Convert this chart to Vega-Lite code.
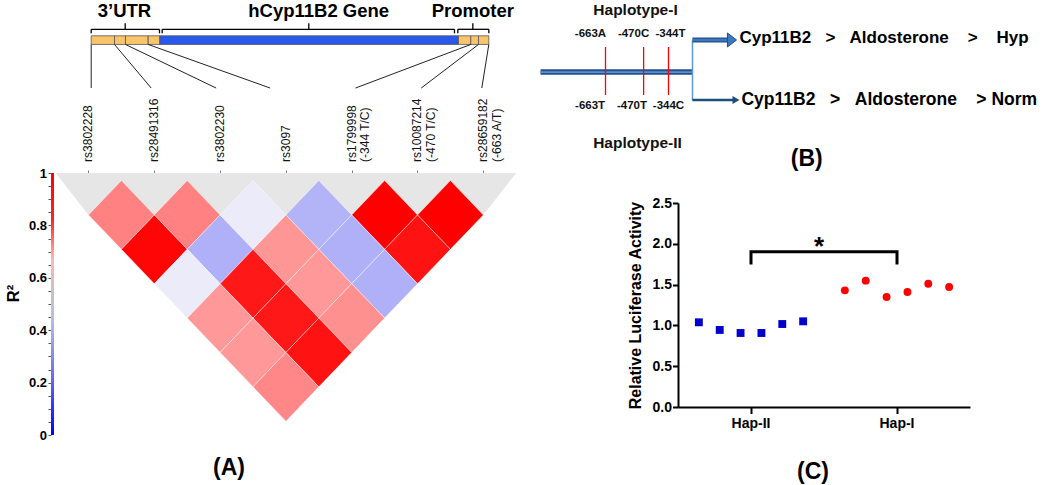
{
  "$schema": "https://vega.github.io/schema/vega-lite/v6.json",
  "background": "white",
  "padding": {"left": 5, "top": 0, "right": 0, "bottom": 0},
  "config": {
    "view": {"stroke": null},
    "font": "Liberation Sans",
    "axis": {"labelFont": "Liberation Sans", "titleFont": "Liberation Sans"},
    "title": {"font": "Liberation Sans", "fontWeight": "bold", "fontSize": 23, "color": "black"}
  },
  "datasets": {
    "regions": [
      {"region": "3’UTR", "start": 0.041, "center": 0.558, "end": 1.079, "label_pos": 0.547},
      {"region": "hCyp11B2 Gene", "start": 1.12, "center": 3.348, "end": 5.562, "label_pos": 3.498},
      {"region": "Promoter", "start": 5.613, "center": 5.841, "end": 6.084, "label_pos": 5.841}
    ],
    "segments": [
      {"part": "UTR", "start": 0.041, "end": 0.395},
      {"part": "UTR", "start": 0.395, "end": 0.562},
      {"part": "UTR", "start": 0.562, "end": 0.907},
      {"part": "UTR", "start": 0.907, "end": 1.084},
      {"part": "Gene", "start": 1.084, "end": 5.623},
      {"part": "Promoter", "start": 5.623, "end": 5.81},
      {"part": "Promoter", "start": 5.81, "end": 5.927},
      {"part": "Promoter", "start": 5.927, "end": 6.084}
    ],
    "snps": [
      {"snp": "rs3802228", "label": "rs3802228", "idx": 0, "bar_pos": 0.041, "line_end": 0.041},
      {"snp": "rs28491316", "label": "rs28491316", "idx": 1, "bar_pos": 0.395, "line_end": 0.953},
      {"snp": "rs3802230", "label": "rs3802230", "idx": 2, "bar_pos": 0.562, "line_end": 1.94},
      {"snp": "rs3097", "label": "rs3097", "idx": 3, "bar_pos": 0.907, "line_end": 2.761},
      {"snp": "rs1799998", "label": "rs1799998\n(-344 T/C)", "idx": 4, "bar_pos": 5.81, "line_end": 4.058},
      {"snp": "rs10087214", "label": "rs10087214\n(-470 T/C)", "idx": 5, "bar_pos": 5.927, "line_end": 5.056},
      {"snp": "rs28659182", "label": "rs28659182\n(-663 A/T)", "idx": 6, "bar_pos": 6.084, "line_end": 5.977}
    ],
    "r2bar": [{"r2_low": 0, "r2_high": 1}],
    "band": [
      {"pos": -0.5, "lower": -0.22},
      {"pos": 0, "lower": 1},
      {"pos": 6, "lower": 1},
      {"pos": 6.5, "lower": -0.22}
    ],
    "ld": [
      {"snp_a": "rs3802228", "snp_b": "rs28491316", "mid": 0.5, "sep": 1, "r2": 0.79},
      {"snp_a": "rs28491316", "snp_b": "rs3802230", "mid": 1.5, "sep": 1, "r2": 0.79},
      {"snp_a": "rs3802230", "snp_b": "rs3097", "mid": 2.5, "sep": 1, "r2": 0.5},
      {"snp_a": "rs3097", "snp_b": "rs1799998", "mid": 3.5, "sep": 1, "r2": 0.31},
      {"snp_a": "rs1799998", "snp_b": "rs10087214", "mid": 4.5, "sep": 1, "r2": 1},
      {"snp_a": "rs10087214", "snp_b": "rs28659182", "mid": 5.5, "sep": 1, "r2": 1},
      {"snp_a": "rs3802228", "snp_b": "rs3802230", "mid": 1, "sep": 2, "r2": 0.99},
      {"snp_a": "rs28491316", "snp_b": "rs3097", "mid": 2, "sep": 2, "r2": 0.3},
      {"snp_a": "rs3802230", "snp_b": "rs1799998", "mid": 3, "sep": 2, "r2": 0.755},
      {"snp_a": "rs3097", "snp_b": "rs10087214", "mid": 4, "sep": 2, "r2": 0.3},
      {"snp_a": "rs1799998", "snp_b": "rs28659182", "mid": 5, "sep": 2, "r2": 0.97},
      {"snp_a": "rs3802228", "snp_b": "rs3097", "mid": 1.5, "sep": 3, "r2": 0.5},
      {"snp_a": "rs28491316", "snp_b": "rs1799998", "mid": 2.5, "sep": 3, "r2": 0.96},
      {"snp_a": "rs3802230", "snp_b": "rs10087214", "mid": 3.5, "sep": 3, "r2": 0.75},
      {"snp_a": "rs3097", "snp_b": "rs28659182", "mid": 4.5, "sep": 3, "r2": 0.3},
      {"snp_a": "rs3802228", "snp_b": "rs1799998", "mid": 2, "sep": 4, "r2": 0.75},
      {"snp_a": "rs28491316", "snp_b": "rs10087214", "mid": 3, "sep": 4, "r2": 0.96},
      {"snp_a": "rs3802230", "snp_b": "rs28659182", "mid": 4, "sep": 4, "r2": 0.765},
      {"snp_a": "rs3802228", "snp_b": "rs10087214", "mid": 2.5, "sep": 5, "r2": 0.75},
      {"snp_a": "rs28491316", "snp_b": "rs28659182", "mid": 3.5, "sep": 5, "r2": 0.97},
      {"snp_a": "rs3802228", "snp_b": "rs28659182", "mid": 3, "sep": 6, "r2": 0.78}
    ],
    "promoter_line": [{"from": -992, "to": -222.5}],
    "promoter_snps": [
      {"snp": "rs28659182", "bp": -663},
      {"snp": "rs10087214", "bp": -470},
      {"snp": "rs1799998", "bp": -344}
    ],
    "alleles": [
      {"haplotype": "Haplotype-I", "allele": "-663A", "label_bp": -739, "level": 0.231},
      {"haplotype": "Haplotype-I", "allele": "-470C", "label_bp": -521, "level": 0.231},
      {"haplotype": "Haplotype-I", "allele": "-344T", "label_bp": -334, "level": 0.231},
      {"haplotype": "Haplotype-II", "allele": "-663T", "label_bp": -741, "level": 0.721},
      {"haplotype": "Haplotype-II", "allele": "-470T", "label_bp": -529, "level": 0.721},
      {"haplotype": "Haplotype-II", "allele": "-344C", "label_bp": -344, "level": 0.721}
    ],
    "haplotypes": [
      {"haplotype": "Haplotype-I", "label_bp": -511, "label_level": 0.068, "pathway": "Cyp11B2\u00a0\u00a0\u00a0>\u00a0\u00a0\u00a0Aldosterone\u00a0\u00a0\u00a0\u00a0>\u00a0\u00a0\u00a0\u00a0Hyp", "text_bp": 15.5, "text_level": 0.2585},
      {"haplotype": "Haplotype-II", "label_bp": -501, "label_level": 0.973, "pathway": "Cyp11B2\u00a0\u00a0\u00a0>\u00a0\u00a0\u00a0Aldosterone\u00a0\u00a0\u00a0\u00a0>\u00a0Norm", "text_bp": 25.6, "text_level": 0.68}
    ],
    "luc": [
      {"haplotype": "Hap-II", "replicate": 1, "activity": 1.038},
      {"haplotype": "Hap-II", "replicate": 2, "activity": 0.944},
      {"haplotype": "Hap-II", "replicate": 3, "activity": 0.907},
      {"haplotype": "Hap-II", "replicate": 4, "activity": 0.907},
      {"haplotype": "Hap-II", "replicate": 5, "activity": 1.017},
      {"haplotype": "Hap-II", "replicate": 6, "activity": 1.05},
      {"haplotype": "Hap-I", "replicate": 1, "activity": 1.43},
      {"haplotype": "Hap-I", "replicate": 2, "activity": 1.548},
      {"haplotype": "Hap-I", "replicate": 3, "activity": 1.348},
      {"haplotype": "Hap-I", "replicate": 4, "activity": 1.409},
      {"haplotype": "Hap-I", "replicate": 5, "activity": 1.511},
      {"haplotype": "Hap-I", "replicate": 6, "activity": 1.471}
    ],
    "bracket": [
      {"haplotype": "Hap-II", "level": 1.745, "order": 1},
      {"haplotype": "Hap-II", "level": 1.903, "order": 2},
      {"haplotype": "Hap-I", "level": 1.903, "order": 3},
      {"haplotype": "Hap-I", "level": 1.745, "order": 4}
    ],
    "significance": [{"haplotype": "Hap-II", "level": 1.903, "label": "*"}]
  },
  "bounds": "flush",
  "spacing": 479,
  "hconcat": [
    {
      "bounds": "flush",
      "spacing": 0,
      "vconcat": [
        {
          "width": 469,
          "height": 173,
          "layer": [
            {
              "data": {"name": "regions"},
              "mark": {"type": "text", "fontSize": 18.5, "fontWeight": "bold", "color": "black", "baseline": "middle", "align": "center"},
              "encoding": {
                "x": {"field": "label_pos", "type": "quantitative", "scale": {"domain": [-0.5699, 6.5578], "nice": false, "zero": false}, "axis": null},
                "y": {"datum": 0.064, "type": "quantitative", "scale": {"domain": [0, 1], "reverse": true, "nice": false, "zero": false}, "axis": null},
                "text": {"field": "region"}
              }
            },
            {
              "data": {"name": "regions"},
              "mark": {"type": "rule", "color": "black", "strokeWidth": 1.3},
              "encoding": {
                "x": {"field": "start", "type": "quantitative", "scale": {"domain": [-0.5699, 6.5578], "nice": false, "zero": false}, "axis": null},
                "x2": {"field": "end"},
                "y": {"datum": 0.1694, "type": "quantitative", "scale": {"domain": [0, 1], "reverse": true, "nice": false, "zero": false}, "axis": null}
              }
            },
            {
              "data": {"name": "regions"},
              "mark": {"type": "rule", "color": "black", "strokeWidth": 1.3},
              "encoding": {
                "x": {"field": "start", "type": "quantitative", "scale": {"domain": [-0.5699, 6.5578], "nice": false, "zero": false}, "axis": null},
                "y": {"datum": 0.1694, "type": "quantitative", "scale": {"domain": [0, 1], "reverse": true, "nice": false, "zero": false}, "axis": null},
                "y2": {"datum": 0.1925}
              }
            },
            {
              "data": {"name": "regions"},
              "mark": {"type": "rule", "color": "black", "strokeWidth": 1.3},
              "encoding": {
                "x": {"field": "end", "type": "quantitative", "scale": {"domain": [-0.5699, 6.5578], "nice": false, "zero": false}, "axis": null},
                "y": {"datum": 0.1694, "type": "quantitative", "scale": {"domain": [0, 1], "reverse": true, "nice": false, "zero": false}, "axis": null},
                "y2": {"datum": 0.1925}
              }
            },
            {
              "data": {"name": "regions"},
              "mark": {"type": "rule", "color": "black", "strokeWidth": 1.3},
              "encoding": {
                "x": {"field": "center", "type": "quantitative", "scale": {"domain": [-0.5699, 6.5578], "nice": false, "zero": false}, "axis": null},
                "y": {"datum": 0.1347, "type": "quantitative", "scale": {"domain": [0, 1], "reverse": true, "nice": false, "zero": false}, "axis": null},
                "y2": {"datum": 0.1694}
              }
            },
            {
              "data": {"name": "segments"},
              "mark": {"type": "rect", "stroke": "#555555", "strokeWidth": 0.8},
              "encoding": {
                "x": {"field": "start", "type": "quantitative", "scale": {"domain": [-0.5699, 6.5578], "nice": false, "zero": false}, "axis": null},
                "x2": {"field": "end"},
                "y": {"datum": 0.207, "type": "quantitative", "scale": {"domain": [0, 1], "reverse": true, "nice": false, "zero": false}, "axis": null},
                "y2": {"datum": 0.257},
                "color": {"field": "part", "type": "nominal", "scale": {"domain": ["UTR", "Gene", "Promoter"], "range": ["#F9C46B", "#2A58EC", "#F9C46B"]}, "legend": null}
              }
            },
            {
              "data": {"name": "snps"},
              "mark": {"type": "rule", "color": "#222222", "strokeWidth": 1},
              "encoding": {
                "x": {"field": "bar_pos", "type": "quantitative", "scale": {"domain": [-0.5699, 6.5578], "nice": false, "zero": false}, "axis": null},
                "x2": {"field": "line_end"},
                "y": {"datum": 0.257, "type": "quantitative", "scale": {"domain": [0, 1], "reverse": true, "nice": false, "zero": false}, "axis": null},
                "y2": {"datum": 0.509}
              }
            },
            {
              "data": {"name": "snps"},
              "mark": {"type": "text", "angle": 270, "align": "left", "baseline": "middle", "fontSize": 12, "lineBreak": "\n", "lineHeight": 13.5, "color": "#111111"},
              "encoding": {
                "x": {"field": "idx", "type": "quantitative", "scale": {"domain": [-0.5699, 6.5578], "nice": false, "zero": false}, "axis": null},
                "y": {"datum": 0.936, "type": "quantitative", "scale": {"domain": [0, 1], "reverse": true, "nice": false, "zero": false}, "axis": null},
                "text": {"field": "label"}
              }
            }
          ]
        },
        {
          "bounds": "flush",
          "spacing": 0,
          "hconcat": [
            {
              "width": 3,
              "height": 262,
              "data": {"name": "r2bar"},
              "mark": {
                "type": "rect",
                "fill": {
                  "gradient": "linear", "x1": 0, "y1": 0, "x2": 0, "y2": 1,
                  "stops": [
                    {"offset": 0, "color": "#FF0000"},
                    {"offset": 0.18, "color": "#FF2424"},
                    {"offset": 0.33, "color": "#FFB8B8"},
                    {"offset": 0.45, "color": "#C4C4C4"},
                    {"offset": 0.56, "color": "#BCBCE0"},
                    {"offset": 0.78, "color": "#6A6AF2"},
                    {"offset": 1, "color": "#0000FF"}
                  ]
                }
              },
              "encoding": {
                "y": {
                  "field": "r2_low", "type": "quantitative",
                  "scale": {"domain": [0, 1], "nice": false, "zero": false},
                  "axis": {
                    "values": [0, 0.05, 0.1, 0.15, 0.2, 0.25, 0.3, 0.35, 0.4, 0.45, 0.5, 0.55, 0.6, 0.65, 0.7, 0.75, 0.8, 0.85, 0.9, 0.95, 1],
                    "labelExpr": "abs(datum.value*5 - round(datum.value*5)) < 0.001 ? format(datum.value, '~g') : ''",
                    "domain": false, "grid": false,
                    "tickSize": 3, "tickColor": "#555555", "tickWidth": 1,
                    "labelFontSize": 13, "labelFontWeight": "bold", "labelColor": "black", "labelPadding": 1.5, "labelOverlap": false,
                    "title": "R²", "titleFontSize": 16.5, "titleFontWeight": "bold", "titleColor": "black",
                    "titleX": -30, "titleY": 120, "titleAngle": 270, "titleBaseline": "bottom", "titleAlign": "center"
                  }
                },
                "y2": {"field": "r2_high"}
              }
            },
            {
              "width": 466,
              "height": 262,
              "title": {"text": "(A)", "orient": "bottom", "anchor": "middle", "dx": -58, "offset": 22},
              "layer": [
                {
                  "data": {"name": "band"},
                  "mark": {"type": "area", "color": "#E6E6E6", "interpolate": "linear", "opacity": 1},
                  "encoding": {
                    "x": {"field": "pos", "type": "quantitative", "scale": {"domain": [-0.5243, 6.5578], "nice": false, "zero": false},
                      "axis": {"orient": "top", "values": [0, 1, 2, 3, 4, 5, 6], "labels": false, "domain": false, "grid": false, "ticks": true, "tickSize": 3, "tickColor": "#808080", "title": null}},
                    "y": {"field": "lower", "type": "quantitative", "scale": {"domain": [-0.22, 7.4], "reverse": true, "nice": false, "zero": false}, "axis": null},
                    "y2": {"datum": -0.22}
                  }
                },
                {
                  "data": {"name": "ld"},
                  "mark": {"type": "point", "shape": "M-1,0L0,-1.045L1,0L0,1.045Z", "size": 4330, "filled": true, "opacity": 1, "stroke": "#ffffff", "strokeWidth": 0.6, "strokeOpacity": 0.7},
                  "encoding": {
                    "x": {"field": "mid", "type": "quantitative", "scale": {"domain": [-0.5243, 6.5578], "nice": false, "zero": false},
                      "axis": {"orient": "top", "values": [0, 1, 2, 3, 4, 5, 6], "labels": false, "domain": false, "grid": false, "ticks": true, "tickSize": 3, "tickColor": "#808080", "title": null}},
                    "y": {"field": "sep", "type": "quantitative", "scale": {"domain": [-0.22, 7.4], "reverse": true, "nice": false, "zero": false}, "axis": null},
                    "color": {"field": "r2", "type": "quantitative", "scale": {"domain": [0.3, 0.5, 0.75, 1], "range": ["#B0B0F8", "#EBEBFA", "#FF9999", "#FF0000"], "interpolate": "rgb"}, "legend": null}
                  }
                }
              ]
            }
          ]
        }
      ]
    },
    {
      "bounds": "flush",
      "spacing": 56,
      "vconcat": [
        {
          "width": 519.5,
          "height": 147,
          "title": {"text": "(B)", "orient": "bottom", "anchor": "middle", "dx": 17, "offset": -4},
          "layer": [
            {
              "data": {"name": "promoter_line"},
              "mark": {"type": "rule", "color": "#23508A", "strokeWidth": 5.5},
              "encoding": {
                "x": {"field": "from", "type": "quantitative", "scale": {"domain": [-1045.3, 1585.3], "nice": false, "zero": false}, "axis": null},
                "x2": {"field": "to"},
                "y": {"datum": 0.49, "type": "quantitative", "scale": {"domain": [0, 1], "reverse": true, "nice": false, "zero": false}, "axis": null}
              }
            },
            {
              "data": {"name": "promoter_line"},
              "mark": {"type": "rule", "color": "#5B8FD0", "strokeWidth": 1.8},
              "encoding": {
                "x": {"field": "from", "type": "quantitative", "scale": {"domain": [-1045.3, 1585.3], "nice": false, "zero": false}, "axis": null},
                "x2": {"field": "to"},
                "y": {"datum": 0.49, "type": "quantitative", "scale": {"domain": [0, 1], "reverse": true, "nice": false, "zero": false}, "axis": null}
              }
            },
            {
              "data": {"name": "promoter_snps"},
              "mark": {"type": "rule", "color": "#FF0000", "strokeWidth": 1.3},
              "encoding": {
                "x": {"field": "bp", "type": "quantitative", "scale": {"domain": [-1045.3, 1585.3], "nice": false, "zero": false}, "axis": null},
                "y": {"datum": 0.3197, "type": "quantitative", "scale": {"domain": [0, 1], "reverse": true, "nice": false, "zero": false}, "axis": null},
                "y2": {"datum": 0.646}
              }
            },
            {
              "data": {"name": "promoter_line"},
              "mark": {"type": "rule", "color": "#5B9BD5", "strokeWidth": 1.5},
              "encoding": {
                "x": {"field": "to", "type": "quantitative", "scale": {"domain": [-1045.3, 1585.3], "nice": false, "zero": false}, "axis": null},
                "y": {"datum": 0.2755, "type": "quantitative", "scale": {"domain": [0, 1], "reverse": true, "nice": false, "zero": false}, "axis": null},
                "y2": {"datum": 0.684}
              }
            },
            {
              "data": {"name": "promoter_line"},
              "mark": {"type": "rule", "color": "#23508A", "strokeWidth": 5},
              "encoding": {
                "x": {"field": "to", "type": "quantitative", "scale": {"domain": [-1045.3, 1585.3], "nice": false, "zero": false}, "axis": null},
                "x2": {"datum": -45.3},
                "y": {"datum": 0.272, "type": "quantitative", "scale": {"domain": [0, 1], "reverse": true, "nice": false, "zero": false}, "axis": null}
              }
            },
            {
              "data": {"name": "promoter_line"},
              "mark": {"type": "rule", "color": "#3A78C2", "strokeWidth": 2.6},
              "encoding": {
                "x": {"field": "to", "type": "quantitative", "scale": {"domain": [-1045.3, 1585.3], "nice": false, "zero": false}, "axis": null},
                "x2": {"datum": -45.3},
                "y": {"datum": 0.272, "type": "quantitative", "scale": {"domain": [0, 1], "reverse": true, "nice": false, "zero": false}, "axis": null}
              }
            },
            {
              "data": {"name": "promoter_line"},
              "mark": {"type": "point", "shape": "M-0.65,-1L0.65,0L-0.65,1Z", "size": 196, "filled": true, "fill": "#3A78C2", "stroke": "#1F4E79", "strokeWidth": 1, "opacity": 1},
              "encoding": {
                "x": {"datum": -22.5, "type": "quantitative", "scale": {"domain": [-1045.3, 1585.3], "nice": false, "zero": false}, "axis": null},
                "y": {"datum": 0.272, "type": "quantitative", "scale": {"domain": [0, 1], "reverse": true, "nice": false, "zero": false}, "axis": null}
              }
            },
            {
              "data": {"name": "promoter_line"},
              "mark": {"type": "rule", "color": "#1F4E79", "strokeWidth": 2.5},
              "encoding": {
                "x": {"field": "to", "type": "quantitative", "scale": {"domain": [-1045.3, 1585.3], "nice": false, "zero": false}, "axis": null},
                "x2": {"datum": -15},
                "y": {"datum": 0.68, "type": "quantitative", "scale": {"domain": [0, 1], "reverse": true, "nice": false, "zero": false}, "axis": null}
              }
            },
            {
              "data": {"name": "promoter_line"},
              "mark": {"type": "point", "shape": "M-0.875,-1L0.875,0L-0.875,1Z", "size": 64, "filled": true, "fill": "#1F4E79", "opacity": 1},
              "encoding": {
                "x": {"datum": -2.2, "type": "quantitative", "scale": {"domain": [-1045.3, 1585.3], "nice": false, "zero": false}, "axis": null},
                "y": {"datum": 0.68, "type": "quantitative", "scale": {"domain": [0, 1], "reverse": true, "nice": false, "zero": false}, "axis": null}
              }
            },
            {
              "data": {"name": "alleles"},
              "mark": {"type": "text", "fontSize": 11.5, "fontWeight": "bold", "color": "#111111", "align": "center", "baseline": "middle"},
              "encoding": {
                "x": {"field": "label_bp", "type": "quantitative", "scale": {"domain": [-1045.3, 1585.3], "nice": false, "zero": false}, "axis": null},
                "y": {"field": "level", "type": "quantitative", "scale": {"domain": [0, 1], "reverse": true, "nice": false, "zero": false}, "axis": null},
                "text": {"field": "allele"}
              }
            },
            {
              "data": {"name": "haplotypes"},
              "mark": {"type": "text", "fontSize": 15.5, "fontWeight": "bold", "color": "#111111", "align": "center", "baseline": "middle"},
              "encoding": {
                "x": {"field": "label_bp", "type": "quantitative", "scale": {"domain": [-1045.3, 1585.3], "nice": false, "zero": false}, "axis": null},
                "y": {"field": "label_level", "type": "quantitative", "scale": {"domain": [0, 1], "reverse": true, "nice": false, "zero": false}, "axis": null},
                "text": {"field": "haplotype"}
              }
            },
            {
              "data": {"name": "haplotypes"},
              "transform": [{"filter": "datum.haplotype == 'Haplotype-I'"}],
              "mark": {"type": "text", "fontSize": 17, "fontWeight": "bold", "color": "black", "align": "left", "baseline": "middle"},
              "encoding": {
                "x": {"field": "text_bp", "type": "quantitative", "scale": {"domain": [-1045.3, 1585.3], "nice": false, "zero": false}, "axis": null},
                "y": {"field": "text_level", "type": "quantitative", "scale": {"domain": [0, 1], "reverse": true, "nice": false, "zero": false}, "axis": null},
                "text": {"field": "pathway"}
              }
            },
            {
              "data": {"name": "haplotypes"},
              "transform": [{"filter": "datum.haplotype == 'Haplotype-II'"}],
              "mark": {"type": "text", "fontSize": 17.5, "fontWeight": "bold", "color": "black", "align": "left", "baseline": "middle"},
              "encoding": {
                "x": {"field": "text_bp", "type": "quantitative", "scale": {"domain": [-1045.3, 1585.3], "nice": false, "zero": false}, "axis": null},
                "y": {"field": "text_level", "type": "quantitative", "scale": {"domain": [0, 1], "reverse": true, "nice": false, "zero": false}, "axis": null},
                "text": {"field": "pathway"}
              }
            }
          ]
        },
        {
          "bounds": "flush",
          "spacing": 0,
          "hconcat": [
            {
              "width": 147.5,
              "height": 204,
              "data": {"values": []},
              "mark": {"type": "point", "opacity": 0}
            },
            {
              "width": 292,
              "height": 204,
              "title": {"text": "(C)", "orient": "bottom", "anchor": "middle", "dx": -11, "offset": 30},
              "layer": [
                {
                  "data": {"name": "bracket"},
                  "mark": {"type": "line", "color": "black", "strokeWidth": 3, "strokeJoin": "miter"},
                  "encoding": {
                    "x": {"field": "haplotype", "type": "nominal", "sort": ["Hap-II", "Hap-I"], "scale": {"paddingInner": 0, "paddingOuter": 0},
                      "axis": {"title": null, "domainColor": "black", "domainWidth": 2, "tickColor": "black", "tickWidth": 2, "tickSize": 6.5, "labelFontSize": 14, "labelFontWeight": "bold", "labelColor": "black", "labelPadding": 3, "labelAngle": 0}},
                    "y": {"field": "level", "type": "quantitative", "scale": {"domain": [0, 2.5], "nice": false, "zero": false},
                      "axis": {"values": [0, 0.5, 1, 1.5, 2, 2.5], "format": ".1f", "grid": false, "domainColor": "black", "domainWidth": 2, "tickColor": "black", "tickWidth": 2, "tickSize": 5.5, "labelFontSize": 14, "labelFontWeight": "bold", "labelColor": "black", "labelPadding": 1, "title": "Relative Luciferase Activity", "titleFontSize": 16, "titleFontWeight": "bold", "titleColor": "black", "titlePadding": 9}},
                    "order": {"field": "order", "type": "quantitative"}
                  }
                },
                {
                  "data": {"name": "significance"},
                  "mark": {"type": "text", "fontSize": 26, "fontWeight": "bold", "color": "black", "align": "center", "baseline": "alphabetic", "dx": -5, "dy": 3.5},
                  "encoding": {
                    "x": {"field": "haplotype", "type": "nominal", "bandPosition": 1, "sort": ["Hap-II", "Hap-I"], "scale": {"paddingInner": 0, "paddingOuter": 0},
                      "axis": {"title": null, "domainColor": "black", "domainWidth": 2, "tickColor": "black", "tickWidth": 2, "tickSize": 6.5, "labelFontSize": 14, "labelFontWeight": "bold", "labelColor": "black", "labelPadding": 3, "labelAngle": 0}},
                    "y": {"field": "level", "type": "quantitative", "scale": {"domain": [0, 2.5], "nice": false, "zero": false},
                      "axis": {"values": [0, 0.5, 1, 1.5, 2, 2.5], "format": ".1f", "grid": false, "domainColor": "black", "domainWidth": 2, "tickColor": "black", "tickWidth": 2, "tickSize": 5.5, "labelFontSize": 14, "labelFontWeight": "bold", "labelColor": "black", "labelPadding": 1, "title": "Relative Luciferase Activity", "titleFontSize": 16, "titleFontWeight": "bold", "titleColor": "black", "titlePadding": 9}},
                    "text": {"field": "label"}
                  }
                },
                {
                  "data": {"name": "luc"},
                  "mark": {"type": "point", "filled": true, "opacity": 1, "size": 62},
                  "encoding": {
                    "x": {"field": "haplotype", "type": "nominal", "sort": ["Hap-II", "Hap-I"], "scale": {"paddingInner": 0, "paddingOuter": 0},
                      "axis": {"title": null, "domainColor": "black", "domainWidth": 2, "tickColor": "black", "tickWidth": 2, "tickSize": 6.5, "labelFontSize": 14, "labelFontWeight": "bold", "labelColor": "black", "labelPadding": 3, "labelAngle": 0}},
                    "xOffset": {"field": "replicate", "type": "nominal", "scale": {"paddingInner": 0, "paddingOuter": 3.29}},
                    "y": {"field": "activity", "type": "quantitative", "scale": {"domain": [0, 2.5], "nice": false, "zero": false},
                      "axis": {"values": [0, 0.5, 1, 1.5, 2, 2.5], "format": ".1f", "grid": false, "domainColor": "black", "domainWidth": 2, "tickColor": "black", "tickWidth": 2, "tickSize": 5.5, "labelFontSize": 14, "labelFontWeight": "bold", "labelColor": "black", "labelPadding": 1, "title": "Relative Luciferase Activity", "titleFontSize": 16, "titleFontWeight": "bold", "titleColor": "black", "titlePadding": 9}},
                    "shape": {"field": "haplotype", "type": "nominal", "scale": {"domain": ["Hap-II", "Hap-I"], "range": ["square", "circle"]}, "legend": null},
                    "color": {"field": "haplotype", "type": "nominal", "scale": {"domain": ["Hap-II", "Hap-I"], "range": ["#0000CD", "#FF0000"]}, "legend": null}
                  }
                }
              ]
            }
          ]
        }
      ]
    }
  ]
}
